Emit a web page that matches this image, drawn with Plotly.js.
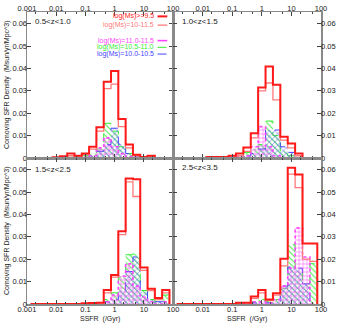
<!DOCTYPE html>
<html>
<head>
<meta charset="utf-8">
<script src="https://cdn.plot.ly/plotly-3.0.1.min.js"></script>
<style>
  html, body { margin: 0; padding: 0; background: #fff; }
  #chart { width: 338px; height: 323px; }
</style>
</head>
<body>
<div id="chart"></div>
<script>
// bin centres, log10(SSFR / Gyr^-1), 0.25 dex wide
const ssfrCenters = [-2.75, -2.5, -2.25, -2.0, -1.75, -1.5, -1.25, -1.0, -0.75, -0.5, -0.25, 0, 0.25, 0.5, 0.75, 1.0, 1.25, 1.5, 1.75];
const binHalf = 0.125;

// 0.5<z<1.0
const allZ1  = [0, 0, 0, 0.0003, 0.0008, 0.002, 0.001, 0.002, 0.005, 0.0137, 0.034, 0.0389, 0.0174, 0.006, 0.0015, 0.0005, 0.001, 0, 0];
const massZ1 = [0, 0, 0, 0, 0.0003, 0.001, 0.0005, 0.0015, 0.004, 0.012, 0.031, 0.033, 0.014, 0.0045, 0.001, 0.0003, 0.0005, 0, 0];
const m11Z1  = [0, 0, 0, 0, 0, 0, 0, 0.0003, 0.001, 0.0045, 0.009, 0.005, 0.002, 0.0005, 0, 0, 0, 0, 0];
const m105Z1 = [0, 0, 0, 0, 0, 0.0003, 0, 0.001, 0.002, 0.004, 0.0155, 0.012, 0.005, 0.002, 0.0003, 0, 0, 0, 0];
const m10Z1  = [0, 0, 0, 0, 0, 0, 0, 0.0003, 0.001, 0.003, 0.006, 0.0133, 0.0062, 0.002, 0.0005, 0, 0, 0, 0];

// 1.0<z<1.5
const allZ2  = [0, 0, 0, 0, 0.0005, 0.0005, 0.0005, 0.001, 0.002, 0.0047, 0.011, 0.0315, 0.0409, 0.0327, 0.0095, 0.0065, 0.002, 0, 0];
const massZ2 = [0, 0, 0, 0, 0, 0.0003, 0.0005, 0.0005, 0.001, 0.003, 0.009, 0.030, 0.0335, 0.026, 0.008, 0.0045, 0.001, 0, 0];
const m11Z2  = [0, 0, 0, 0, 0, 0, 0, 0, 0.0005, 0.001, 0.005, 0.014, 0.005, 0.001, 0, 0, 0, 0, 0];
const m105Z2 = [0, 0, 0, 0, 0, 0, 0, 0, 0.001, 0.0025, 0.004, 0.006, 0.0165, 0.010, 0.003, 0.001, 0, 0, 0];
const m10Z2  = [0, 0, 0, 0, 0, 0, 0, 0, 0, 0.001, 0.002, 0.004, 0.0125, 0.0125, 0.005, 0.0025, 0.0005, 0, 0];

// 1.5<z<2.5
const allZ3  = [0, 0, 0, 0, 0, 0, 0, 0.0003, 0.0005, 0.0006, 0.0062, 0.0129, 0.0325, 0.056, 0.0557, 0.0163, 0.0068, 0.0027, 0.0062];
const massZ3 = [0, 0, 0, 0, 0, 0, 0, 0, 0.0003, 0.0005, 0.005, 0.012, 0.031, 0.0545, 0.048, 0.015, 0.006, 0.002, 0.005];
const m11Z3  = [0, 0, 0, 0, 0, 0, 0, 0, 0, 0, 0.001, 0.004, 0.0125, 0.018, 0.008, 0.003, 0.001, 0, 0.001];
const m105Z3 = [0, 0, 0, 0, 0, 0, 0, 0, 0, 0, 0.002, 0.005, 0.012, 0.022, 0.0225, 0.006, 0.002, 0.001, 0.004];
const m10Z3  = [0, 0, 0, 0, 0, 0, 0, 0, 0, 0, 0.001, 0.002, 0.006, 0.0145, 0.021, 0.0055, 0.002, 0.001, 0.001];

// 2.5<z<3.5
const allZ4  = [0, 0, 0, 0, 0, 0, 0, 0, 0.0006, 0.0006, 0.0033, 0.0062, 0.002, 0.0048, 0.0202, 0.0609, 0.0578, 0.027, 0.027];
const massZ4 = [0, 0, 0, 0, 0, 0, 0, 0, 0, 0.0005, 0.0025, 0.005, 0.0015, 0.004, 0.017, 0.058, 0.052, 0.020, 0.019];
const m11Z4  = [0, 0, 0, 0, 0, 0, 0, 0, 0, 0, 0.001, 0.001, 0.0005, 0.002, 0.008, 0.016, 0.034, 0.021, 0];
const m105Z4 = [0, 0, 0, 0, 0, 0, 0, 0, 0, 0, 0.001, 0.002, 0.001, 0.002, 0.007, 0.0265, 0.015, 0.009, 0.018];
const m10Z4  = [0, 0, 0, 0, 0, 0, 0, 0, 0, 0, 0.0005, 0.001, 0.0005, 0.001, 0.008, 0.0165, 0.016, 0.009, 0];

const panelLabels = ['0.5<z<1.0', '1.0<z<1.5', '1.5<z<2.5', '2.5<z<3.5'];
const seriesNames = ['log(Ms)>=9.5', 'log(Ms)=10-11.5', 'log(Ms)=11.0-11.5', 'log(Ms)=10.5-11.0', 'log(Ms)=10.0-10.5'];
const xTickVals = [0.001, 0.01, 0.1, 1, 10, 100];
const xTickText = ['0.001', '0.01', '0.1', '1', '10', '100'];
const yTickVals = [0, 0.01, 0.02, 0.03, 0.04, 0.05, 0.06];
const yTickText = ['0', '0.01', '0.02', '0.03', '0.04', '0.05', '0.06'];

const panels = [
    { all: allZ1, mass: massZ1, m11: m11Z1, m105: m105Z1, m10: m10Z1 },
    { all: allZ2, mass: massZ2, m11: m11Z2, m105: m105Z2, m10: m10Z2 },
    { all: allZ3, mass: massZ3, m11: m11Z3, m105: m105Z3, m10: m10Z3 },
    { all: allZ4, mass: massZ4, m11: m11Z4, m105: m105Z4, m10: m10Z4 },
];

const styles = {
    all:  { color: '#ff1a1a', width: 2, dash: 'solid' },
    mass: { color: '#ff7a7a', width: 1.3, dash: 'solid' },
    m11:  { color: '#ff44ff', width: 1.6, dash: 'dot', pattern: '+', pcolor: '#ff55ff' },
    m105: { color: '#33ee33', width: 1, dash: 'dash', pattern: '\\', pcolor: '#44ee44' },
    m10:  { color: '#4444ff', width: 1, dash: 'dash', pattern: 'x', pcolor: '#6666ff' },
};

function stepTrace(vals, n, key) {
    const st = styles[key];
    const x = [Math.pow(10, ssfrCenters[0] - binHalf)];
    const y = [0];
    ssfrCenters.forEach((c, i) => {
        x.push(Math.pow(10, c - binHalf));
        y.push(vals[i]);
    });
    x.push(Math.pow(10, ssfrCenters[ssfrCenters.length - 1] + binHalf));
    y.push(0);
    const suffix = n === 1 ? '' : String(n);
    const trace = {
        type: 'scatter', mode: 'lines', x: x, y: y,
        xaxis: 'x' + suffix, yaxis: 'y' + suffix,
        line: { shape: 'hv', color: st.color, width: st.width, dash: st.dash },
        showlegend: false, hoverinfo: 'skip',
    };
    if (st.pattern) {
        trace.fill = 'tozeroy';
        trace.fillcolor = 'rgba(0,0,0,0)';
        trace.fillpattern = { shape: st.pattern, fgcolor: st.pcolor, bgcolor: 'rgba(255,255,255,0)', size: 4, solidity: 0.25, fillmode: 'replace' };
    }
    return trace;
}

const traces = [];
panels.forEach((p, i) => {
    ['m105', 'm10', 'm11', 'mass', 'all'].forEach(k => traces.push(stepTrace(p[k], i + 1, k)));
});

const font = { family: 'Liberation Sans, Arial, sans-serif', size: 8, color: '#222' };
const tickFont = { family: font.family, size: 7.5, color: '#222' };
const axisBase = {
    showline: true, linecolor: '#8a8a8a', linewidth: 1.5, mirror: 'ticks',
    ticks: 'inside', ticklen: 4, tickcolor: '#444', tickwidth: 1,
    showgrid: false, zeroline: false, tickfont: tickFont,
};

function xAxis(domain, side, showLabels, isRight) {
    return Object.assign({}, axisBase, {
        type: 'log', domain: domain, range: [-3, 2], side: side,
        tickmode: 'array', tickvals: xTickVals,
        ticktext: isRight ? [''].concat(xTickText.slice(1)) : xTickText,
        showticklabels: showLabels, ticklabelstandoff: -3,
        minor: { ticks: 'inside', ticklen: 2, tickcolor: '#444', dtick: 'D2' },
    });
}
function yAxis(domain, side, anchor) {
    return Object.assign({}, axisBase, {
        domain: domain, range: [0, 0.0652], side: side, anchor: anchor,
        tickmode: 'array', tickvals: yTickVals, ticktext: yTickText,
        ticklabelstandoff: -3,
    });
}

const layout = {
    width: 338, height: 323,
    margin: { l: 27, r: 17, t: 12, b: 19 },
    paper_bgcolor: '#fff', plot_bgcolor: '#fff',
    font: font, showlegend: false,
    xaxis:  Object.assign(xAxis([0, 0.497], 'top', true, false), { anchor: 'y' }),
    xaxis2: Object.assign(xAxis([0.497, 1], 'top', true, true), { anchor: 'y2' }),
    xaxis3: Object.assign(xAxis([0, 0.497], 'bottom', true, false), { anchor: 'y3' }),
    xaxis4: Object.assign(xAxis([0.497, 1], 'bottom', true, true), { anchor: 'y4' }),
    yaxis:  yAxis([0.5, 1], 'left', 'x'),
    yaxis2: yAxis([0.5, 1], 'right', 'x2'),
    yaxis3: yAxis([0, 0.5], 'left', 'x3'),
    yaxis4: yAxis([0, 0.5], 'right', 'x4'),
    annotations: [],
    shapes: [],
};

// panel labels
const labelPos = [[0.02, 0.966], [0.519, 0.966], [0.02, 0.462], [0.519, 0.469]];
panelLabels.forEach((t, i) => {
    layout.annotations.push({ xref: 'paper', yref: 'paper', x: labelPos[i][0], y: labelPos[i][1],
        xanchor: 'left', yanchor: 'middle', text: t, showarrow: false, font: font });
});

// axis titles
const titleFont = { family: font.family, size: 7, color: '#222' };
[0.75, 0.25].forEach(y => layout.annotations.push({ xref: 'paper', yref: 'paper', x: -0.068, y: y,
    textangle: -90, text: 'Comoving SFR Density  (Msun/yr/Mpc^3)', showarrow: false,
    xanchor: 'center', yanchor: 'middle', font: titleFont }));
[0.248, 0.748].forEach(x => layout.annotations.push({ xref: 'paper', yref: 'paper', x: x, y: -0.05,
    text: 'SSFR  (/Gyr)', showarrow: false, xanchor: 'center', yanchor: 'middle', font: titleFont }));

// key, drawn gnuplot style: text then sample
const keyY = [0.985, 0.955, 0.902, 0.879, 0.856];
const keyKeys = ['all', 'mass', 'm11', 'm105', 'm10'];
seriesNames.forEach((name, i) => {
    const st = styles[keyKeys[i]];
    layout.annotations.push({ xref: 'paper', yref: 'paper', x: 0.437, y: keyY[i], xanchor: 'right',
        yanchor: 'middle', text: name, showarrow: false, borderpad: 0,
        font: { family: font.family, size: 7, color: st.color } });
    layout.shapes.push({ type: 'line', xref: 'paper', yref: 'paper', x0: 0.444, x1: 0.477,
        y0: keyY[i], y1: keyY[i],
        line: { color: st.color, width: st.width, dash: i < 3 ? 'solid' : 'dash' } });
});

Plotly.newPlot('chart', traces, layout, { displayModeBar: false, staticPlot: true });
</script>
</body>
</html>
